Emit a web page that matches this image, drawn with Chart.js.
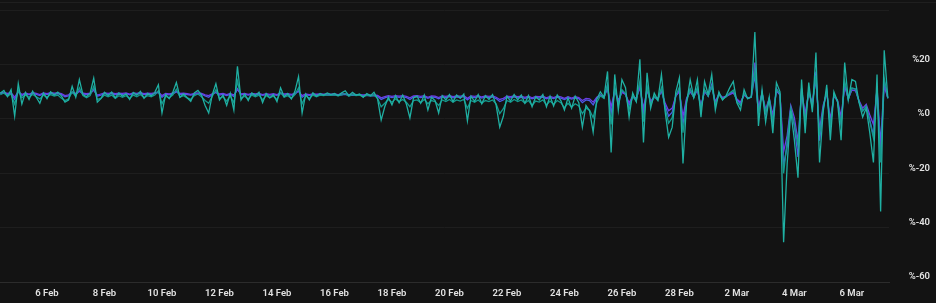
<!DOCTYPE html>
<html>
<head>
<meta charset="utf-8">
<script src="https://cdn.jsdelivr.net/npm/chart.js@4.4.1/dist/chart.umd.min.js"></script>
<style>
  html, body { margin: 0; padding: 0; background: #131313; }
  #wrap { position: relative; width: 936px; height: 303px; }
  #topline { position: absolute; left: 0; top: 2px; width: 936px; height: 1px; background: #1f1f1f; }
  canvas { position: absolute; left: 0; top: 0; }
</style>
</head>
<body>
<div id="wrap">
  <div id="topline"></div>
  <canvas id="chart" width="936" height="303"></canvas>
</div>
<script>
// series sampled every 3 hours, starting 4 Feb 09:00
const START = Date.UTC(2025, 1, 4, 9);
const STEP = 3 * 3600 * 1000;

const xTickDates = [
  Date.UTC(2025, 1, 6), Date.UTC(2025, 1, 8), Date.UTC(2025, 1, 10), Date.UTC(2025, 1, 12),
  Date.UTC(2025, 1, 14), Date.UTC(2025, 1, 16), Date.UTC(2025, 1, 18), Date.UTC(2025, 1, 20),
  Date.UTC(2025, 1, 22), Date.UTC(2025, 1, 24), Date.UTC(2025, 1, 26), Date.UTC(2025, 1, 28),
  Date.UTC(2025, 2, 2), Date.UTC(2025, 2, 4), Date.UTC(2025, 2, 6)
];
const xTickLabels = ['6 Feb', '8 Feb', '10 Feb', '12 Feb', '14 Feb', '16 Feb', '18 Feb', '20 Feb',
  '22 Feb', '24 Feb', '26 Feb', '28 Feb', '2 Mar', '4 Mar', '6 Mar'];

const yTickValues = [-60, -40, -20, 0, 20, 40];
const yTickLabels = ['%-60', '%-40', '%-20', '%0', '%20', ''];

// bright teal, most volatile
const seriesA = [
  9.5, 10.5, 8.2, 10.8, 1.0, 13.0, 5.5, 9.8, 7.2, 10.2,
  8.0, 5.8, 9.6, 7.5, 10.0, 8.8, 9.9, 8.5, 6.2, 7.0,
  12.0, 8.0, 14.5, 9.0, 8.2, 9.5, 15.0, 6.2, 7.5, 9.8,
  8.6, 9.9, 7.8, 9.6, 8.4, 9.2, 7.2, 9.8, 8.8, 10.2,
  7.6, 9.4, 8.5, 9.8, 12.6, 2.2, 9.0, 7.5, 9.8, 13.4,
  8.0, 9.2, 7.8, 6.5, 9.6, 10.5, 8.8, 5.0, 2.2, 9.0,
  13.0, 7.0, 8.8, 5.0, 9.4, 3.3, 19.4, 7.0, 9.2, 6.8,
  9.6, 8.6, 9.9, 6.0, 9.4, 7.8, 9.0, 6.4, 11.5, 8.2,
  9.4, 7.4, 10.2, 15.6, 2.2, 9.2, 7.0, 9.6, 8.4, 9.4,
  8.8, 9.6, 9.0, 9.4, 8.6, 9.6, 10.4, 8.6, 9.8, 8.8,
  9.2, 8.0, 9.4, 8.6, 9.8, 7.4, -0.4, 4.5, 8.0, 5.2,
  8.6, 6.0, 8.8, 5.5, 0.4, 7.8, 8.4, 5.8, 8.8, 3.3,
  8.0, 6.8, 2.2, 8.6, 7.0, 9.0, 6.4, 8.8, 7.6, 9.2,
  -0.7, 8.4, 6.5, 9.0, 5.6, 8.6, 7.2, 9.0, 5.0, -3.0,
  1.0, 8.4, 6.6, 9.0, 7.0, 8.8, 5.8, 8.6, 4.5, 8.2,
  7.0, 9.0, 4.5, 8.4, 4.8, 8.8, 6.8, 3.3, 7.8, 4.0,
  8.4, 6.0, -3.0, 5.0, 3.0, -4.8, 7.2, 10.0, 8.0, 17.5,
  -12.3, 16.4, 3.3, 14.5, 11.5, 0.7, 9.6, 6.4, 22.0, -8.6,
  17.0, 4.0, 9.5, 7.0, 16.4, 3.0, -6.7, -3.0, 10.0, 15.2,
  -16.4, 6.0, 14.5, 8.0, 14.5, 0.7, 13.8, 9.0, 16.4, 3.3,
  10.0, 7.0, 8.6, 11.5, 13.8, 6.0, 3.3, 10.8, 7.4, 8.2,
  32.0, -2.6, 10.8, -1.1, 8.0, -5.2, 13.4, 10.0, -45.4, -16.4,
  3.0, -7.8, -21.6, 14.5, -5.2, 13.4, 2.5, 24.5, -16.0, 2.5,
  12.6, -7.8, 10.0, 6.5, -7.8, 20.8, 7.0, 14.5, 13.8, 6.0,
  0.7, 4.0, -5.2, -16.0, 16.4, -34.0, 25.3, 7.8
];

// darker teal, sags below the others in late Feb
const seriesB = [
  9.0, 9.6, 8.4, 9.2, 5.5, 10.5, 7.8, 8.8, 8.0, 9.0,
  8.2, 7.4, 8.8, 8.0, 9.0, 8.4, 8.8, 7.6, 6.8, 7.4,
  10.0, 8.4, 11.5, 8.6, 7.8, 8.6, 12.0, 7.2, 7.6, 8.8,
  8.2, 8.8, 7.6, 8.6, 8.0, 8.6, 7.6, 8.8, 8.2, 9.0,
  7.8, 8.6, 8.2, 8.8, 10.4, 5.6, 8.4, 7.8, 8.8, 11.0,
  8.0, 8.6, 7.8, 7.2, 8.6, 9.2, 8.2, 6.8, 5.8, 8.4,
  10.8, 7.6, 8.2, 6.6, 8.6, 6.0, 14.0, 7.6, 8.4, 7.4,
  8.8, 8.2, 8.8, 7.0, 8.6, 7.8, 8.4, 7.2, 9.8, 8.0,
  8.6, 7.6, 9.0, 11.5, 5.6, 8.6, 7.6, 8.8, 8.2, 8.8,
  8.6, 8.9, 8.7, 8.9, 8.5, 8.9, 9.4, 8.4, 9.0, 8.6,
  8.8, 8.2, 8.8, 8.4, 8.8, 7.6, 4.5, 5.8, 7.2, 6.2,
  7.4, 6.4, 7.2, 6.2, 4.5, 6.8, 7.0, 6.0, 7.2, 5.6,
  6.8, 6.4, 5.0, 7.0, 6.4, 7.2, 6.2, 7.0, 6.6, 7.2,
  4.0, 6.8, 6.2, 7.0, 5.8, 6.8, 6.4, 7.0, 5.6, 2.0,
  3.8, 6.8, 6.2, 7.2, 6.4, 7.0, 5.8, 6.8, 5.0, 6.6,
  6.2, 7.0, 5.2, 6.6, 5.4, 6.8, 6.0, 4.2, 5.8, 4.4,
  5.6, 4.8, 2.0, 4.0, 3.2, 0.5, 6.0, 8.6, 7.6, 12.5,
  -2.0, 11.5, 5.0, 10.8, 9.4, 3.5, 8.4, 6.4, 14.0, -1.0,
  12.0, 5.0, 8.4, 6.8, 11.5, 4.2, -1.5, 0.5, 8.6, 11.8,
  -5.0, 6.4, 11.0, 7.8, 11.5, 3.8, 10.8, 8.4, 12.0, 5.2,
  9.0, 7.2, 8.2, 9.6, 10.6, 6.4, 5.0, 9.4, 7.6, 8.0,
  18.0, 2.0, 9.6, 2.5, 7.6, -1.0, 11.0, 9.2, -20.0, -8.0,
  4.2, -2.0, -10.0, 11.0, -1.0, 10.6, 4.0, 16.0, -6.0, 4.0,
  10.4, -2.5, 9.0, 6.6, -2.0, 14.0, 7.2, 11.5, 11.0, 6.4,
  2.8, 4.8, -1.0, -7.0, 11.5, -16.0, 15.0, 7.6
];

// purple
const seriesC = [
  9.6, 9.8, 9.4, 9.7, 8.0, 10.2, 9.0, 9.6, 9.2, 9.7,
  9.4, 9.0, 9.6, 9.3, 9.7, 9.5, 9.6, 9.3, 8.6, 8.9,
  9.9, 9.4, 10.4, 9.5, 9.3, 9.5, 10.6, 8.8, 9.2, 9.6,
  9.4, 9.6, 9.3, 9.5, 9.4, 9.6, 9.2, 9.6, 9.4, 9.7,
  9.3, 9.5, 9.4, 9.6, 10.0, 8.6, 9.4, 9.2, 9.5, 10.2,
  9.4, 9.5, 9.3, 9.1, 9.4, 9.6, 9.4, 8.9, 8.6, 9.3,
  9.9, 9.2, 9.4, 9.0, 9.4, 8.8, 10.8, 9.2, 9.4, 9.1,
  9.4, 9.2, 9.4, 9.0, 9.3, 9.1, 9.3, 9.0, 9.6, 9.2,
  9.3, 9.1, 9.4, 10.2, 8.6, 9.2, 9.0, 9.2, 9.1, 9.2,
  9.1, 9.2, 9.1, 9.2, 9.0, 9.2, 9.3, 9.0, 9.1, 9.0,
  9.0, 8.9, 9.0, 8.8, 8.9, 8.7, 7.8, 8.2, 8.6, 8.3,
  8.6, 8.4, 8.6, 8.3, 7.8, 8.5, 8.6, 8.3, 8.6, 8.0,
  8.5, 8.4, 7.9, 8.5, 8.3, 8.6, 8.2, 8.5, 8.4, 8.6,
  7.6, 8.5, 8.3, 8.6, 8.1, 8.5, 8.3, 8.5, 8.0, 7.2,
  7.6, 8.4, 8.2, 8.5, 8.2, 8.4, 8.0, 8.4, 7.8, 8.3,
  8.2, 8.4, 7.8, 8.3, 7.9, 8.4, 8.1, 7.6, 8.2, 7.7,
  8.2, 7.9, 6.8, 7.6, 7.4, 6.2, 8.0, 8.8, 8.2, 11.0,
  4.5, 10.2, 7.0, 9.8, 9.0, 6.0, 8.4, 7.6, 11.5, 4.0,
  10.5, 6.6, 8.2, 7.6, 10.2, 6.0, 3.0, 4.0, 8.4, 10.0,
  1.0, 7.6, 10.0, 8.2, 10.6, 5.0, 10.0, 8.6, 11.8, 6.4,
  9.0, 8.0, 8.4, 9.0, 9.6, 7.4, 6.2, 8.8, 7.8, 8.0,
  20.8, 4.0, 9.4, 3.5, 7.6, 1.5, 10.4, 8.8, -12.0, -6.0,
  5.0, 0.5, -8.0, 10.0, 2.0, 9.6, 6.0, 14.5, -4.0, 5.0,
  9.6, 0.0, 8.4, 7.0, 1.0, 12.0, 7.6, 10.6, 10.4, 6.8,
  4.0, 5.4, 1.5, -2.0, 10.6, -12.7, 12.0, 7.8
];

// blue violet
const seriesD = [
  9.3, 9.5, 9.1, 9.4, 7.2, 10.0, 8.6, 9.3, 8.9, 9.4,
  9.1, 8.6, 9.3, 9.0, 9.4, 9.2, 9.3, 9.0, 8.2, 8.5,
  9.7, 9.0, 10.2, 9.2, 9.0, 9.2, 10.8, 8.4, 8.8, 9.3,
  9.1, 9.3, 9.0, 9.2, 9.1, 9.3, 8.9, 9.3, 9.1, 9.4,
  9.0, 9.2, 9.1, 9.3, 9.8, 8.0, 9.1, 8.9, 9.2, 10.0,
  9.1, 9.2, 9.0, 8.8, 9.1, 9.3, 9.1, 8.5, 8.0, 9.0,
  9.8, 8.8, 9.1, 8.6, 9.1, 8.3, 11.2, 8.9, 9.1, 8.8,
  9.1, 8.9, 9.1, 8.7, 9.0, 8.8, 9.0, 8.7, 9.4, 8.9,
  9.0, 8.8, 9.1, 10.4, 8.0, 8.9, 8.7, 8.9, 8.8, 8.9,
  8.8, 8.9, 8.8, 8.9, 8.7, 8.9, 9.1, 8.7, 8.8, 8.7,
  8.7, 8.6, 8.7, 8.5, 8.6, 8.4, 7.2, 7.8, 8.2, 7.9,
  8.2, 8.0, 8.2, 7.9, 7.2, 8.1, 8.2, 7.9, 8.2, 7.6,
  8.1, 8.0, 7.4, 8.1, 7.9, 8.2, 7.8, 8.1, 8.0, 8.2,
  7.0, 8.1, 7.9, 8.2, 7.7, 8.1, 7.9, 8.1, 7.5, 6.4,
  7.0, 8.0, 7.8, 8.1, 7.8, 8.0, 7.6, 8.0, 7.4, 7.9,
  7.8, 8.0, 7.4, 7.9, 7.5, 8.0, 7.7, 7.2, 7.8, 7.3,
  7.8, 7.5, 6.0, 7.0, 6.8, 5.2, 7.6, 8.8, 7.8, 12.5,
  2.0, 11.2, 6.4, 10.2, 9.2, 5.0, 8.2, 7.2, 13.0, 2.0,
  11.5, 6.0, 8.0, 7.2, 11.0, 5.2, 1.0, 2.5, 8.6, 10.8,
  -2.0, 7.2, 11.0, 8.0, 11.2, 4.0, 10.6, 8.4, 12.8, 5.6,
  9.4, 7.6, 8.2, 9.4, 10.0, 7.0, 5.6, 9.0, 7.6, 8.0,
  16.0, 2.5, 9.8, 2.0, 7.4, -1.5, 11.2, 9.0, -17.0, -10.0,
  4.0, -2.5, -14.0, 11.5, 0.5, 10.4, 5.0, 17.5, -8.0, 3.5,
  10.4, -3.0, 9.0, 6.4, -1.5, 13.0, 7.2, 11.2, 11.0, 6.2,
  3.0, 4.6, -0.5, -6.0, 11.8, -9.0, 14.0, 7.6
];

const times = seriesA.map((_, i) => START + i * STEP);
const toPoints = arr => arr.map((v, i) => ({ x: times[i], y: v }));

const tickFont = { family: 'Roboto', size: 9.5, weight: '600' };

function makeLine(data, color, order) {
  return {
    data: toPoints(data),
    borderColor: color,
    borderWidth: 1.3,
    pointRadius: 0,
    tension: 0,
    fill: false,
    order: order
  };
}

new Chart(document.getElementById('chart').getContext('2d'), {
  type: 'line',
  data: {
    datasets: [
      makeLine(seriesA, '#1fb0a3', 0),
      makeLine(seriesB, '#14998d', 1),
      makeLine(seriesC, '#6a3fe6', 2),
      makeLine(seriesD, '#4c5ce8', 3)
    ]
  },
  options: {
    responsive: false,
    animation: false,
    layout: { padding: { left: 0, top: 0, bottom: 0, right: 6 } },
    plugins: {
      legend: { display: false },
      tooltip: { enabled: false }
    },
    scales: {
      x: {
        type: 'linear',
        min: Date.UTC(2025, 1, 4, 8, 45),
        max: Date.UTC(2025, 2, 7, 7, 0),
        afterBuildTicks: s => { s.ticks = xTickDates.map(v => ({ value: v })); },
        afterFit: s => { s.height = 21; s.paddingLeft = 0; s.paddingRight = 0; },
        grid: { display: false, drawTicks: false },
        border: { color: '#2c2c2c', width: 1 },
        ticks: {
          autoSkip: false,
          maxRotation: 0,
          padding: 6,
          color: '#e2e2e2',
          font: tickFont,
          callback: (v, i) => xTickLabels[i]
        }
      },
      y: {
        position: 'right',
        min: -60,
        max: 43.8,
        afterBuildTicks: s => { s.ticks = yTickValues.map(v => ({ value: v })); },
        afterFit: s => { s.width = 41; s.paddingTop = 0; s.paddingBottom = 0; },
        border: { display: false },
        grid: {
          drawTicks: false,
          color: c => (c.tick && c.tick.value === -60) ? 'rgba(0,0,0,0)' : '#1e1e1e'
        },
        ticks: {
          crossAlign: 'far',
          padding: 0,
          labelOffset: -5,
          color: '#e2e2e2',
          font: tickFont,
          callback: (v, i) => yTickLabels[i]
        }
      }
    }
  }
});
</script>
</body>
</html>
